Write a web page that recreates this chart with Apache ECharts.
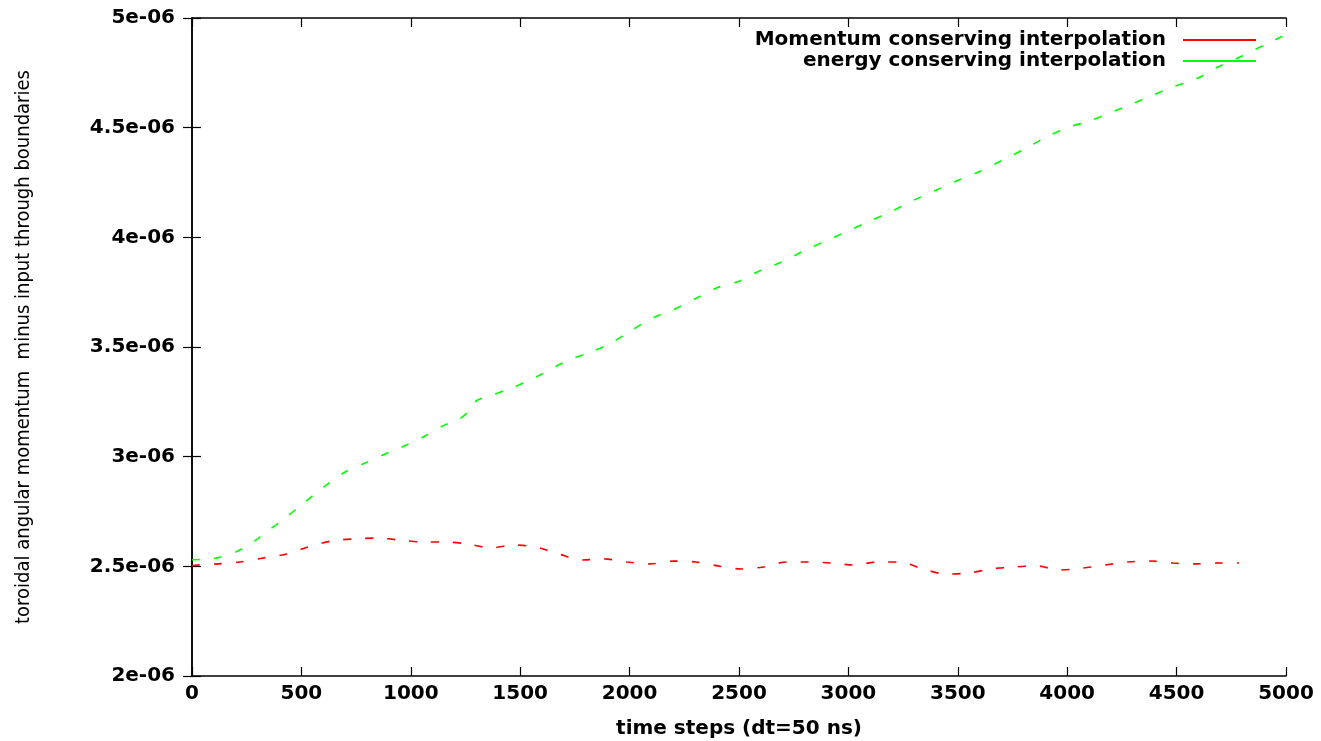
<!DOCTYPE html>
<html>
<head>
<meta charset="utf-8">
<script src="https://cdn.jsdelivr.net/npm/echarts@6/dist/echarts.min.js"></script>
<style>
html,body{margin:0;padding:0;background:#fff;}
#chart{width:1321px;height:741px;}
</style>
</head>
<body>
<div id="chart"></div>
<script>
// ---- data ----
const seriesNames = ['Momentum conserving interpolation', 'energy conserving interpolation'];
const xTicks = [0, 500, 1000, 1500, 2000, 2500, 3000, 3500, 4000, 4500, 5000];
const yTicks = [2e-6, 2.5e-6, 3e-6, 3.5e-6, 4e-6, 4.5e-6, 5e-6];

const momentumX = [0, 23, 119, 219, 325, 434, 530, 640, 740, 846, 946, 1051, 1156, 1261, 1367, 1467, 1572, 1677, 1782, 1883, 1988, 2093, 2198, 2303, 2404, 2509, 2610, 2719, 2820, 2925, 3026, 3131, 3236, 3341, 3446, 3551, 3652, 3757, 3862, 3963, 4068, 4173, 4278, 4383, 4484, 4589, 4694, 4785];
const momentumY = [2.502e-6, 2.506e-6, 2.511e-6, 2.520e-6, 2.538e-6, 2.556e-6, 2.588e-6, 2.616e-6, 2.625e-6, 2.629e-6, 2.620e-6, 2.611e-6, 2.611e-6, 2.602e-6, 2.584e-6, 2.597e-6, 2.588e-6, 2.556e-6, 2.529e-6, 2.534e-6, 2.520e-6, 2.511e-6, 2.524e-6, 2.520e-6, 2.502e-6, 2.488e-6, 2.497e-6, 2.520e-6, 2.520e-6, 2.515e-6, 2.506e-6, 2.520e-6, 2.520e-6, 2.488e-6, 2.465e-6, 2.470e-6, 2.488e-6, 2.497e-6, 2.502e-6, 2.483e-6, 2.492e-6, 2.506e-6, 2.520e-6, 2.524e-6, 2.515e-6, 2.511e-6, 2.515e-6, 2.515e-6];

const energyX = [0, 100, 200, 300, 325, 400, 500, 600, 700, 800, 900, 960, 1056, 1156, 1220, 1261, 1300, 1362, 1472, 1572, 1700, 1800, 1900, 2000, 2100, 2200, 2300, 2400, 2500, 2600, 2700, 2800, 2900, 3000, 3100, 3200, 3300, 3400, 3500, 3600, 3700, 3800, 3900, 4000, 4100, 4173, 4273, 4383, 4484, 4589, 4689, 4799, 4900, 4986];
const energyY = [2.530e-6, 2.536e-6, 2.565e-6, 2.625e-6, 2.648e-6, 2.700e-6, 2.780e-6, 2.860e-6, 2.930e-6, 2.975e-6, 3.020e-6, 3.044e-6, 3.090e-6, 3.145e-6, 3.170e-6, 3.204e-6, 3.255e-6, 3.277e-6, 3.318e-6, 3.363e-6, 3.430e-6, 3.470e-6, 3.510e-6, 3.570e-6, 3.630e-6, 3.670e-6, 3.720e-6, 3.770e-6, 3.800e-6, 3.850e-6, 3.890e-6, 3.940e-6, 3.985e-6, 4.030e-6, 4.075e-6, 4.120e-6, 4.170e-6, 4.215e-6, 4.260e-6, 4.300e-6, 4.350e-6, 4.400e-6, 4.455e-6, 4.500e-6, 4.530e-6, 4.558e-6, 4.599e-6, 4.645e-6, 4.686e-6, 4.722e-6, 4.777e-6, 4.827e-6, 4.877e-6, 4.918e-6];

const xTitle = 'time steps (dt=50 ns)';
const yTitle = 'toroidal angular momentum  minus input through boundaries';

// ---- chart ----
const zip = (xs, ys) => xs.map((x, i) => [x, ys[i]]);
const fmtY = v => {
  const m = Math.round(v * 1e7) / 10;
  return m + 'e-06';
};
const fmtX = v => String(Math.round(v));
const labelFont = {fontFamily: 'DejaVu Sans', fontWeight: 'bold', fontSize: 20, color: '#000'};
const axisLineStyle = {lineStyle: {color: '#000', width: 1.5}};
const tickStyle = {show: true, inside: true, length: 9, lineStyle: {color: '#000', width: 1.2}};

const chart = echarts.init(document.getElementById('chart'), null, {renderer: 'canvas'});
chart.setOption({
  animation: false,
  backgroundColor: '#fff',
  grid: {left: 192, right: 35, top: 18, bottom: 65, containLabel: false, outerBoundsMode: 'none'},
  legend: {
    orient: 'vertical',
    right: 60,
    top: 25,
    align: 'right',
    itemWidth: 73,
    itemHeight: 14,
    itemGap: 1,
    icon: 'path://M0,0L73,0L73,2L0,2Z',
    data: seriesNames,
    textStyle: Object.assign({}, labelFont, {padding: [0, 12, 0, 0]})
  },
  xAxis: [{
    type: 'value', min: xTicks[0], max: xTicks[xTicks.length - 1], interval: 500,
    name: xTitle, nameLocation: 'middle', nameGap: 43,
    nameTextStyle: labelFont,
    axisLine: axisLineStyle, axisTick: tickStyle,
    axisLabel: Object.assign({}, labelFont, {margin: 8, formatter: fmtX}),
    splitLine: {show: false}
  }, {
    type: 'value', position: 'top', min: xTicks[0], max: xTicks[xTicks.length - 1], interval: 500,
    axisLine: axisLineStyle, axisTick: tickStyle, axisLabel: {show: false}, splitLine: {show: false}
  }],
  yAxis: [{
    type: 'value', min: yTicks[0], max: yTicks[yTicks.length - 1], interval: 0.5e-6,
    name: yTitle, nameLocation: 'middle', nameGap: 158, nameRotate: 90,
    nameTextStyle: {fontFamily: '"DejaVu Sans Condensed", "Liberation Sans Narrow", "Liberation Sans", sans-serif', fontSize: 20, color: '#000'},
    axisLine: axisLineStyle, axisTick: tickStyle,
    axisLabel: Object.assign({}, labelFont, {margin: 17, formatter: fmtY}),
    splitLine: {show: false}
  }, {
    type: 'value', position: 'right', min: yTicks[0], max: yTicks[yTicks.length - 1], interval: 0.5e-6,
    axisLine: axisLineStyle, axisTick: tickStyle, axisLabel: {show: false}, splitLine: {show: false}
  }],
  series: [{
    name: seriesNames[0], type: 'line', xAxisIndex: 0, yAxisIndex: 0,
    data: zip(momentumX, momentumY), symbol: 'none', smooth: 0.3,
    itemStyle: {color: '#ff0000'},
    lineStyle: {color: '#ff0000', width: 1.6, type: [8, 14]}
  }, {
    name: seriesNames[1], type: 'line', xAxisIndex: 0, yAxisIndex: 0,
    data: zip(energyX, energyY), symbol: 'none', smooth: 0.3,
    itemStyle: {color: '#00ff00'},
    lineStyle: {color: '#00ff00', width: 1.6, type: [8, 14]}
  }]
});
</script>
</body>
</html>
